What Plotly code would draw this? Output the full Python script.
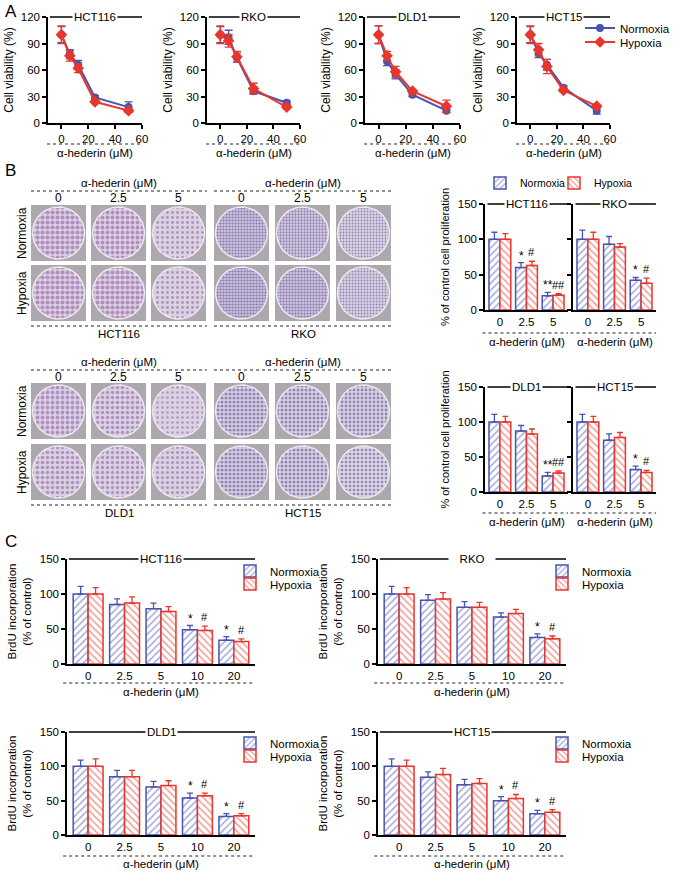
import math
import plotly.graph_objects as go

W, H = 677, 875
BLUE = '#4a54ae'
RED = '#e8362c'
FONT = 'Liberation Sans, Arial, sans-serif'

# ---------------- Data ----------------
cell_lines = ['HCT116', 'RKO', 'DLD1', 'HCT15']

# Panel A: cell viability (%)
a_dose = [0, 6.25, 12.5, 25, 50]
a_norm = [[100, 78, 66, 29, 18], [100, 97, 74, 36, 23], [100, 70, 55, 32, 14], [100, 79, 66, 40, 14]]
a_norm_err = [[9, 5, 5, 2, 6], [9, 8, 5, 3, 2], [10, 5, 5, 2, 2], [9, 5, 6, 2, 4]]
a_hyp = [[100, 76, 62, 24, 14], [100, 93, 75, 39, 18], [100, 76, 58, 36, 19], [100, 83, 64, 37, 19]]
a_hyp_err = [[10, 6, 5, 2, 2], [10, 7, 6, 6, 2], [10, 5, 6, 2, 7], [10, 7, 8, 2, 2]]

# Panel B: % of control cell proliferation
b_dose_labels = ['0', '2.5', '5']
b_norm = [[100, 60, 20], [100, 93, 42], [100, 87, 23], [100, 74, 32]]
b_norm_err = [[10, 7, 5], [13, 11, 4], [11, 8, 5], [11, 9, 5]]
b_hyp = [[100, 63, 21], [100, 89, 38], [100, 83, 27], [100, 78, 28]]
b_hyp_err = [[8, 6, 2], [10, 5, 7], [8, 7, 3], [8, 7, 3]]
b_sig_norm = [['', '*', '**'], ['', '', '*'], ['', '', '**'], ['', '', '*']]
b_sig_hyp = [['', '#', '##'], ['', '', '#'], ['', '', '##'], ['', '', '#']]

# Panel C: BrdU incorporation (% of control)
c_dose_labels = ['0', '2.5', '5', '10', '20']
c_norm = [[100, 85, 79, 49, 34], [100, 91, 81, 67, 38], [100, 85, 70, 54, 27], [100, 84, 73, 50, 31]]
c_norm_err = [[11, 8, 8, 6, 5], [11, 8, 8, 6, 5], [9, 9, 8, 7, 4], [11, 8, 8, 6, 5]]
c_hyp = [[100, 87, 75, 48, 32], [100, 93, 81, 72, 36], [100, 85, 72, 57, 28], [100, 88, 75, 53, 33]]
c_hyp_err = [[9, 9, 7, 6, 4], [9, 9, 7, 6, 4], [11, 9, 7, 4, 3], [9, 9, 7, 6, 4]]
c_sig_norm = [['', '', '', '*', '*'], ['', '', '', '', '*'], ['', '', '', '*', '*'], ['', '', '', '*', '*']]
c_sig_hyp = [['', '', '', '#', '#'], ['', '', '', '', '#'], ['', '', '', '#', '#'], ['', '', '', '#', '#']]

# Colony plate photos (placeholder): estimated stain density per plate
plate_density = [[[0.55, 0.5, 0.25], [0.55, 0.55, 0.25]],
                 [[0.5, 0.45, 0.3], [0.55, 0.5, 0.35]],
                 [[0.45, 0.4, 0.2], [0.4, 0.35, 0.3]],
                 [[0.5, 0.45, 0.4], [0.5, 0.45, 0.35]]]
plate_conditions = ['Normoxia', 'Hypoxia']
dose_unit = 'α-hederin (μM)'

# ---------------- Helpers ----------------
def px(x):
    return x / W

def py(y):
    return 1 - y / H

def xn(k):
    return 'x' if k == 1 else f'x{k}'

def yn(k):
    return 'y' if k == 1 else f'y{k}'

def lname(i):
    return 'legend' if i == 1 else f'legend{i}'

def tfont(size=11):
    return dict(size=size, color='black', family=FONT)

fig = go.Figure()
layout = {}
shapes = []
annots = []

ax_common = dict(showline=True, linecolor='black', linewidth=1.5, ticks='outside', ticklen=4,
                 tickwidth=1.5, tickcolor='black', showgrid=False, zeroline=False,
                 tickfont=tfont(11.5), fixedrange=True, automargin=False)
DOT = dict(color='#222222', width=1, dash='dot')


def title_bar(k, text, x0=0.02, size=11.5):
    shapes.append(dict(type='line', xref=f'{xn(k)} domain', yref=f'{yn(k)} domain',
                       x0=x0, x1=1, y0=1, y1=1, line=dict(color='black', width=1.5)))
    annots.append(dict(xref=f'{xn(k)} domain', yref=f'{yn(k)} domain', x=0.5, y=1,
                       text=text, showarrow=False, bgcolor='white', borderpad=1,
                       font=tfont(size), xanchor='center', yanchor='middle'))


def dotted_label(k, ydot, ylab, x0=-0.01):
    shapes.append(dict(type='line', xref=f'{xn(k)} domain', yref='paper', x0=x0, x1=1,
                       y0=py(ydot), y1=py(ydot), line=DOT))
    annots.append(dict(xref=f'{xn(k)} domain', yref='paper', x=0.5, y=py(ylab), text=dose_unit,
                       showarrow=False, font=tfont(11.5), xanchor='center', yanchor='middle'))


def paper_text(x, y, text, size=11, angle=0, xanchor='center'):
    annots.append(dict(xref='paper', yref='paper', x=px(x), y=py(y), text=text, showarrow=False,
                       textangle=angle, font=tfont(size), xanchor=xanchor, yanchor='middle'))


def legend_at(xc, yc, size=11):
    return dict(x=px(xc - 20), y=py(yc), xanchor='left', yanchor='middle',
                bgcolor='rgba(0,0,0,0)', borderwidth=0, font=tfont(size))

# ---------------- Panel A ----------------
a_xdom = [(48, 142), (207, 300), (365, 460), (517, 610)]
a_ydom = (17, 123)
for i, cl in enumerate(cell_lines):
    k = i + 1
    for vals, errs, col, sym, nm, lg in [(a_norm[i], a_norm_err[i], BLUE, 'circle', 'Normoxia', 1),
                                        (a_hyp[i], a_hyp_err[i], RED, 'diamond', 'Hypoxia', 2)]:
        fig.add_trace(go.Scatter(
            x=a_dose, y=vals, mode='lines+markers', name=nm, cliponaxis=False,
            line=dict(color=col, width=2),
            marker=dict(color=col, symbol=sym, size=8 if sym == 'circle' else 9),
            error_y=dict(type='data', array=errs, color=col, thickness=1.3, width=4),
            xaxis=xn(k), yaxis=yn(k), showlegend=(i == 0), legend=lname(lg)))
    layout['xaxis' if k == 1 else f'xaxis{k}'] = dict(
        ax_common, domain=[px(a_xdom[i][0]), px(a_xdom[i][1])], range=[-10, 60],
        tickvals=[0, 20, 40, 60], anchor=yn(k))
    layout['yaxis' if k == 1 else f'yaxis{k}'] = dict(
        ax_common, domain=[py(a_ydom[1]), py(a_ydom[0])], range=[0, 120],
        tickvals=[0, 30, 60, 90, 120], anchor=xn(k),
        title=dict(text='Cell viability (%)', font=tfont(12), standoff=5))
    title_bar(k, cl)
    dotted_label(k, 144, 153)

layout['legend'] = legend_at(600, 28, 11.5)
layout['legend2'] = legend_at(600, 42, 11.5)

# ---------------- Panel B bars ----------------
b_xdom = [(485, 568), (573, 656), (485, 568), (573, 656)]
b_ydom = [(204, 310), (204, 310), (387, 492), (387, 492)]
b_dot = [(333, 342), (333, 342), (513, 522), (513, 522)]


def add_bars(k, xs, norm, nerr, hyp, herr, show, lg_n, lg_h):
    n = len(xs)
    for vals, errs, col, shp, nm, lg in [(norm, nerr, BLUE, '/', 'Normoxia', lg_n),
                                        (hyp, herr, RED, '\\', 'Hypoxia', lg_h)]:
        fig.add_trace(go.Bar(
            x=xs, y=vals, name=nm,
            marker=dict(color='white', line=dict(color=col, width=1.5),
                        pattern=dict(shape=shp, fgcolor=col, bgcolor='white', size=5, solidity=0.3)),
            error_y=dict(type='data', symmetric=False, array=errs, arrayminus=[0] * n,
                         color=col, thickness=1.3, width=3),
            xaxis=xn(k), yaxis=yn(k), showlegend=show, legend=lname(lg)))


def add_sig(k, xs, vals, errs, sigs, off):
    for x, v, e, s in zip(xs, vals, errs, sigs):
        if s:
            annots.append(dict(xref=xn(k), yref=yn(k), x=x + off, y=v + e, text=s, showarrow=False,
                               xanchor='center', yanchor='bottom', yshift=1 if '#' in s else -2,
                               font=tfont(11 if '#' in s else 12)))


for i, cl in enumerate(cell_lines):
    k = 5 + i
    xs = list(range(len(b_dose_labels)))
    add_bars(k, xs, b_norm[i], b_norm_err[i], b_hyp[i], b_hyp_err[i], i == 0, 3, 4)
    add_sig(k, xs, b_norm[i], b_norm_err[i], b_sig_norm[i], -0.2)
    add_sig(k, xs, b_hyp[i], b_hyp_err[i], b_sig_hyp[i], 0.2)
    layout[f'xaxis{k}'] = dict(ax_common, domain=[px(b_xdom[i][0]), px(b_xdom[i][1])],
                               range=[-0.56, 2.56], tickvals=xs, ticktext=b_dose_labels,
                               ticks='', anchor=yn(k))
    ytitle = dict(text='% of control cell proliferation', font=tfont(11), standoff=6) if i % 2 == 0 else None
    layout[f'yaxis{k}'] = dict(ax_common, domain=[py(b_ydom[i][1]), py(b_ydom[i][0])],
                               range=[0, 150], tickvals=[0, 50, 100, 150],
                               showticklabels=(i % 2 == 0), anchor=xn(k), title=ytitle)
    title_bar(k, cl, x0=0.03)
    dotted_label(k, b_dot[i][0], b_dot[i][1], x0=-0.03)

layout['legend3'] = legend_at(500, 183, 10.5)
layout['legend4'] = legend_at(574, 183, 10.5)

# ---------------- Panel C bars ----------------
c_xdom = [(67, 255), (378, 566), (67, 255), (378, 566)]
c_ydom = [(559, 664), (559, 664), (732, 835), (732, 835)]
c_dot = [(683, 692), (683, 692), (856, 864), (856, 864)]
c_leg_x = [250, 562, 250, 562]
c_leg_y = [(571, 584), (571, 584), (743, 756), (743, 756)]
for i, cl in enumerate(cell_lines):
    k = 9 + i
    xs = list(range(len(c_dose_labels)))
    add_bars(k, xs, c_norm[i], c_norm_err[i], c_hyp[i], c_hyp_err[i], True, 5 + 2 * i, 6 + 2 * i)
    add_sig(k, xs, c_norm[i], c_norm_err[i], c_sig_norm[i], -0.2)
    add_sig(k, xs, c_hyp[i], c_hyp_err[i], c_sig_hyp[i], 0.2)
    layout[f'xaxis{k}'] = dict(ax_common, domain=[px(c_xdom[i][0]), px(c_xdom[i][1])],
                               range=[-0.58, 4.58], tickvals=xs, ticktext=c_dose_labels,
                               ticks='', anchor=yn(k))
    layout[f'yaxis{k}'] = dict(ax_common, domain=[py(c_ydom[i][1]), py(c_ydom[i][0])],
                               range=[0, 150], tickvals=[0, 50, 100, 150], anchor=xn(k),
                               title=dict(text='BrdU incorporation<br>(% of control)',
                                          font=tfont(11.5), standoff=6))
    title_bar(k, ('   ' + cl + '   ') if cl == 'RKO' else cl, x0=0.01)
    dotted_label(k, c_dot[i][0], c_dot[i][1], x0=-0.02)
    layout[f'legend{5 + 2 * i}'] = legend_at(c_leg_x[i], c_leg_y[i][0], 11.5)
    layout[f'legend{6 + 2 * i}'] = legend_at(c_leg_x[i], c_leg_y[i][1], 11.5)

# ---------------- Panel B colony plates (photo placeholders) ----------------
layout['xaxis13'] = dict(domain=[0, 1], range=[0, W], visible=False, fixedrange=True, anchor='y13')
layout['yaxis13'] = dict(domain=[0, 1], range=[H, 0], visible=False, fixedrange=True, anchor='x13')
group_x = [[31, 91, 151], [214, 275, 336]]
group_span = [(31, 207), (214, 392)]
block_rows = [[205, 265], [383, 444]]
block_text_y = [dict(head=183, dot=191, dose=198, bdot=326, lab=334),
                dict(head=362, dot=370, dose=377, bdot=505, lab=513)]
tile_w, tile_h = 55, 56
stain_col = ['#8d47a5', '#4a3294', '#8c4bad', '#4c3796']
stain_size = [5, 3, 5, 4]
ang = [2 * math.pi * t / 72 for t in range(73)]
for ci, cl in enumerate(cell_lines):
    blk, grp = ci // 2, ci % 2
    tys = block_rows[blk]
    ty = block_text_y[blk]
    gx0, gx1 = group_span[grp]
    gxc = (gx0 + gx1) / 2
    paper_text(gxc, ty['head'], dose_unit, 11.5)
    paper_text(gxc, ty['lab'], cl, 11.5)
    for yy in (ty['dot'], ty['bdot']):
        shapes.append(dict(type='line', xref='paper', yref='paper', x0=px(gx0), x1=px(gx1),
                           y0=py(yy), y1=py(yy), line=DOT))
    for di, dl in enumerate(b_dose_labels):
        tx = group_x[grp][di]
        paper_text(tx + tile_w / 2, ty['dose'], dl, 12)
        for ri, tyy in enumerate(tys):
            shapes.append(dict(type='rect', xref='x13', yref='y13', x0=tx, x1=tx + tile_w,
                               y0=tyy, y1=tyy + tile_h, fillcolor='#aca8ad', line=dict(width=0),
                               layer='below'))
            cx, cy, r = tx + tile_w / 2, tyy + tile_h / 2, tile_w / 2 - 1.5
            fig.add_trace(go.Scatter(
                x=[cx + r * math.cos(a) for a in ang], y=[cy + r * math.sin(a) for a in ang],
                mode='lines', fill='toself', line=dict(color='#ebe7ef', width=1.5),
                fillcolor='#d9d3df',
                fillpattern=dict(shape='.', fgcolor=stain_col[ci], bgcolor='#d9d3df',
                                 size=stain_size[ci], solidity=plate_density[ci][ri][di]),
                xaxis='x13', yaxis='y13', showlegend=False, hoverinfo='skip'))
    if grp == 0:
        for ri, tyy in enumerate(tys):
            paper_text(22, tyy + tile_h / 2, plate_conditions[ri], 12, angle=-90)

# Panel letters
for letter, (lx, ly) in zip(['A', 'B', 'C'], [(3, 12), (3, 171), (3, 541)]):
    paper_text(lx, ly, letter, 17, xanchor='left')

fig.update_layout(**layout)
fig.update_layout(width=W, height=H, autosize=False, margin=dict(l=0, r=0, t=0, b=0, autoexpand=False),
                  paper_bgcolor='white', plot_bgcolor='rgba(0,0,0,0)',
                  barmode='group', bargap=0.18, bargroupgap=0,
                  font=dict(family=FONT, color='black', size=11),
                  shapes=shapes, annotations=annots)
fig.write_html('out.html', config={'displayModeBar': False},
               post_script="document.body.style.margin='0px';")
